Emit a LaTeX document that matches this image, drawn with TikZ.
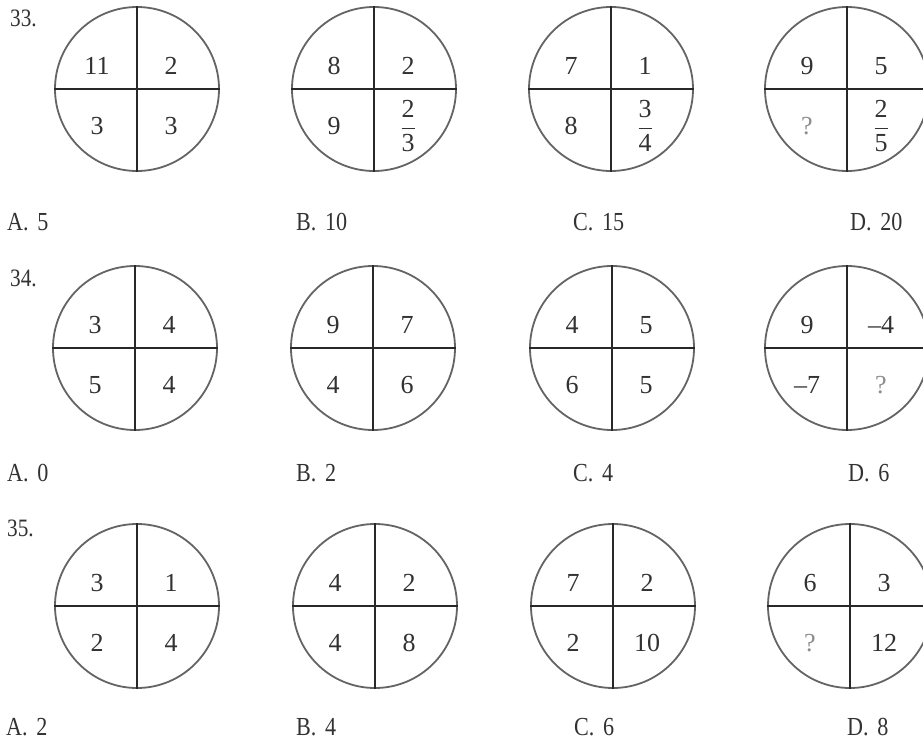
\documentclass[tikz,border=0pt]{standalone}
\usepackage{amsmath}
\usepackage{fontspec}
\setmainfont{Liberation Serif}
\newfontfamily\labelfont[FakeStretch=0.85]{Liberation Serif}
\usepackage{tikz}
\usetikzlibrary{positioning}
\usepackage{xcolor}
\definecolor{ringgray}{RGB}{100,100,100}
\definecolor{crossgray}{RGB}{40,40,40}
\definecolor{numgray}{RGB}{50,50,50}
\definecolor{askgray}{RGB}{140,140,140}

% one puzzle circle: name, centre, four entries (tl, tr, bl, br)
\newcommand{\quadring}[6]{%
  \node[ring] (#1) at (#2) {};
  \draw[cross] (#1.north) -- (#1.south);
  \draw[cross] (#1.west) -- (#1.east);
  \node[num] (#1-tl) at ([shift={(-40,-23)}]#1) {#3};
  \node[num] (#1-tr) at ([shift={(34,-23)}]#1) {#4};
  \node[num] (#1-bl) at ([shift={(-40,37)}]#1) {#5};
  \node[num] (#1-br) at ([shift={(34,37)}]#1) {#6};
}
\newcommand{\fr}[2]{$\dfrac{\text{#1}}{\text{#2}}$}

\begin{document}
\begin{tikzpicture}[x=1pt, y=-1pt,
    ring/.style={circle, draw=ringgray, line width=1.8pt, minimum size=164pt, inner sep=0pt},
    cross/.style={draw=crossgray, line width=1.4pt},
    num/.style={font=\fontsize{26}{26}\selectfont, text=numgray, inner sep=0pt},
    choice/.style={anchor=west, font=\labelfont\fontsize{26}{26}\selectfont, text=numgray, inner sep=0pt},
    qno/.style={anchor=west, font=\labelfont\fontsize{25}{25}\selectfont, text=numgray, inner sep=0pt}]
  \clip (0,0) rectangle (923,749);
  \fill[white] (0,0) rectangle (923,749);

  % question 33
  \node[qno] (q33) at (10,18) {33.};
  \quadring{a1}{137,89}{11}{2}{3}{3}
  \quadring{b1}{374,89}{8}{2}{9}{\fr{2}{3}}
  \quadring{c1}{611,89}{7}{1}{8}{\fr{3}{4}}
  \quadring{d1}{847,89}{9}{5}{\textcolor{askgray}{?}}{\fr{2}{5}}
  \node[choice] (a33) at (7,222) {A.\,\,5};
  \node[choice] (b33) at (296,222) {B.\,\,10};
  \node[choice] (c33) at (573,222) {C.\,\,15};
  \node[choice] (d33) at (850,222) {D.\,\,20};

  % question 34
  \node[qno] (q34) at (10,278) {34.};
  \quadring{a2}{135,348}{3}{4}{5}{4}
  \quadring{b2}{373,348}{9}{7}{4}{6}
  \quadring{c2}{612,348}{4}{5}{6}{5}
  \quadring{d2}{847,348}{9}{\textendash4}{\textendash7}{\textcolor{askgray}{?}}
  \node[choice] (a34) at (7,473) {A.\,\,0};
  \node[choice] (b34) at (296,473) {B.\,\,2};
  \node[choice] (c34) at (573,473) {C.\,\,4};
  \node[choice] (d34) at (848,473) {D.\,\,6};

  % question 35
  \node[qno] (q35) at (7,528) {35.};
  \quadring{a3}{137,606}{3}{1}{2}{4}
  \quadring{b3}{375,606}{4}{2}{4}{8}
  \quadring{c3}{613,606}{7}{2}{2}{10}
  \quadring{d3}{850,606}{6}{3}{\textcolor{askgray}{?}}{12}
  \node[choice] (a35) at (6,727) {A.\,\,2};
  \node[choice] (b35) at (296,727) {B.\,\,4};
  \node[choice] (c35) at (574,727) {C.\,\,6};
  \node[choice] (d35) at (847,727) {D.\,\,8};
\end{tikzpicture}
\end{document}
